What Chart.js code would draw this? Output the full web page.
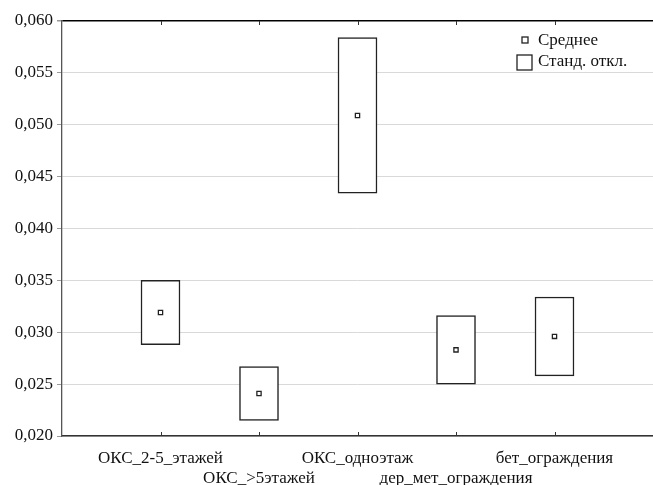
<!DOCTYPE html>
<html>
<head>
<meta charset="utf-8">
<script src="https://cdn.jsdelivr.net/npm/chart.js@4.4.1/dist/chart.umd.min.js"></script>
<style>
body { margin: 0; background: #fff; }
canvas { display: block; }
</style>
</head>
<body>
<canvas id="statChart" width="653" height="485"></canvas>
<script>
// ---- data ----
const categories = ['ОКС_2-5_этажей', 'ОКС_>5этажей', 'ОКС_одноэтаж', 'дер_мет_ограждения', 'бет_ограждения'];
const means = [0.0319, 0.0241, 0.0509, 0.0283, 0.0296];
const sds = [0.0031, 0.0026, 0.0075, 0.0033, 0.0038];
const yTicks = [0.020, 0.025, 0.030, 0.035, 0.040, 0.045, 0.050, 0.055, 0.060];

const FONT = 'Liberation Serif';

// empty slots on both ends so the boxes sit a full step from the edges
const labels = [''].concat(categories, ['']);
const boxData = [null].concat(means.map((m, i) => [m - sds[i], m + sds[i]]), [null]);
const meanData = [null].concat(means, [null]);

// legend and inward tick marks
const extras = {
  id: 'extras',
  afterDraw(chart) {
    const ctx = chart.ctx;
    const area = chart.chartArea;
    const x = chart.scales.x;
    ctx.save();
    ctx.strokeStyle = '#333';
    ctx.lineWidth = 1;
    for (let i = 1; i <= categories.length; i++) {
      const px = Math.round(x.getPixelForValue(i)) + 0.5;
      ctx.beginPath();
      ctx.moveTo(px, area.bottom);
      ctx.lineTo(px, area.bottom - 4);
      ctx.moveTo(px, area.top);
      ctx.lineTo(px, area.top + 4);
      ctx.stroke();
    }

    // legend
    ctx.fillStyle = '#fff';
    ctx.strokeStyle = '#222';
    ctx.lineWidth = 1.3;
    ctx.fillRect(522, 37, 6, 6);
    ctx.strokeRect(522, 37, 6, 6);
    ctx.fillRect(517, 55, 15, 15);
    ctx.strokeRect(517, 55, 15, 15);
    ctx.fillStyle = '#111';
    ctx.font = '17px "' + FONT + '"';
    ctx.textBaseline = 'middle';
    ctx.fillText('Среднее', 538, 41);
    ctx.fillText('Станд. откл.', 538, 62);
    ctx.restore();
  }
};

new Chart(document.getElementById('statChart'), {
  data: {
    labels: labels,
    datasets: [
      {
        type: 'line',
        label: 'Среднее',
        data: meanData,
        showLine: false,
        pointStyle: 'rect',
        pointRadius: 3,
        pointBackgroundColor: '#fff',
        pointBorderColor: '#222',
        pointBorderWidth: 1.3,
        order: 0
      },
      {
        type: 'bar',
        label: 'Станд. откл.',
        data: boxData,
        backgroundColor: '#fff',
        borderColor: '#222',
        borderWidth: 1.5,
        borderSkipped: false,
        barThickness: 39,
        order: 1
      }
    ]
  },
  options: {
    responsive: false,
    animation: false,
    layout: { autoPadding: false, padding: { top: 21, right: 0, left: 0, bottom: 0 } },
    plugins: {
      legend: { display: false },
      tooltip: { enabled: false }
    },
    scales: {
      x: {
        type: 'category',
        offset: false,
        grid: { display: false },
        border: { color: '#333', width: 1.5 },
        afterFit(s) { s.height = 49; s.paddingRight = 0; s.paddingLeft = 0; },
        ticks: {
          autoSkip: false,
          maxRotation: 0,
          minRotation: 0,
          padding: 4,
          color: '#111',
          font: { family: FONT, size: 17 },
          callback(v, i) {
            const t = labels[i];
            if (!t) return '';
            return i % 2 === 1 ? t : ['', t];
          }
        }
      },
      y: {
        min: 0.020,
        max: 0.060,
        afterFit(s) { s.width = 62; },
        afterBuildTicks(s) { s.ticks = yTicks.map(v => ({ value: v })); },
        border: { color: '#555', width: 1.3 },
        grid: {
          color: ctx => (ctx.tick && ctx.tick.value >= 0.0599 ? '#000' : '#d9d9d9'),
          lineWidth: ctx => (ctx.tick && ctx.tick.value >= 0.0599 ? 1.5 : 1),
          tickColor: '#999',
          tickLength: 5
        },
        ticks: {
          padding: 4,
          color: '#111',
          font: { family: FONT, size: 17 },
          callback: v => v.toFixed(3).replace('.', ',')
        }
      }
    }
  },
  plugins: [extras]
});
</script>
</body>
</html>
